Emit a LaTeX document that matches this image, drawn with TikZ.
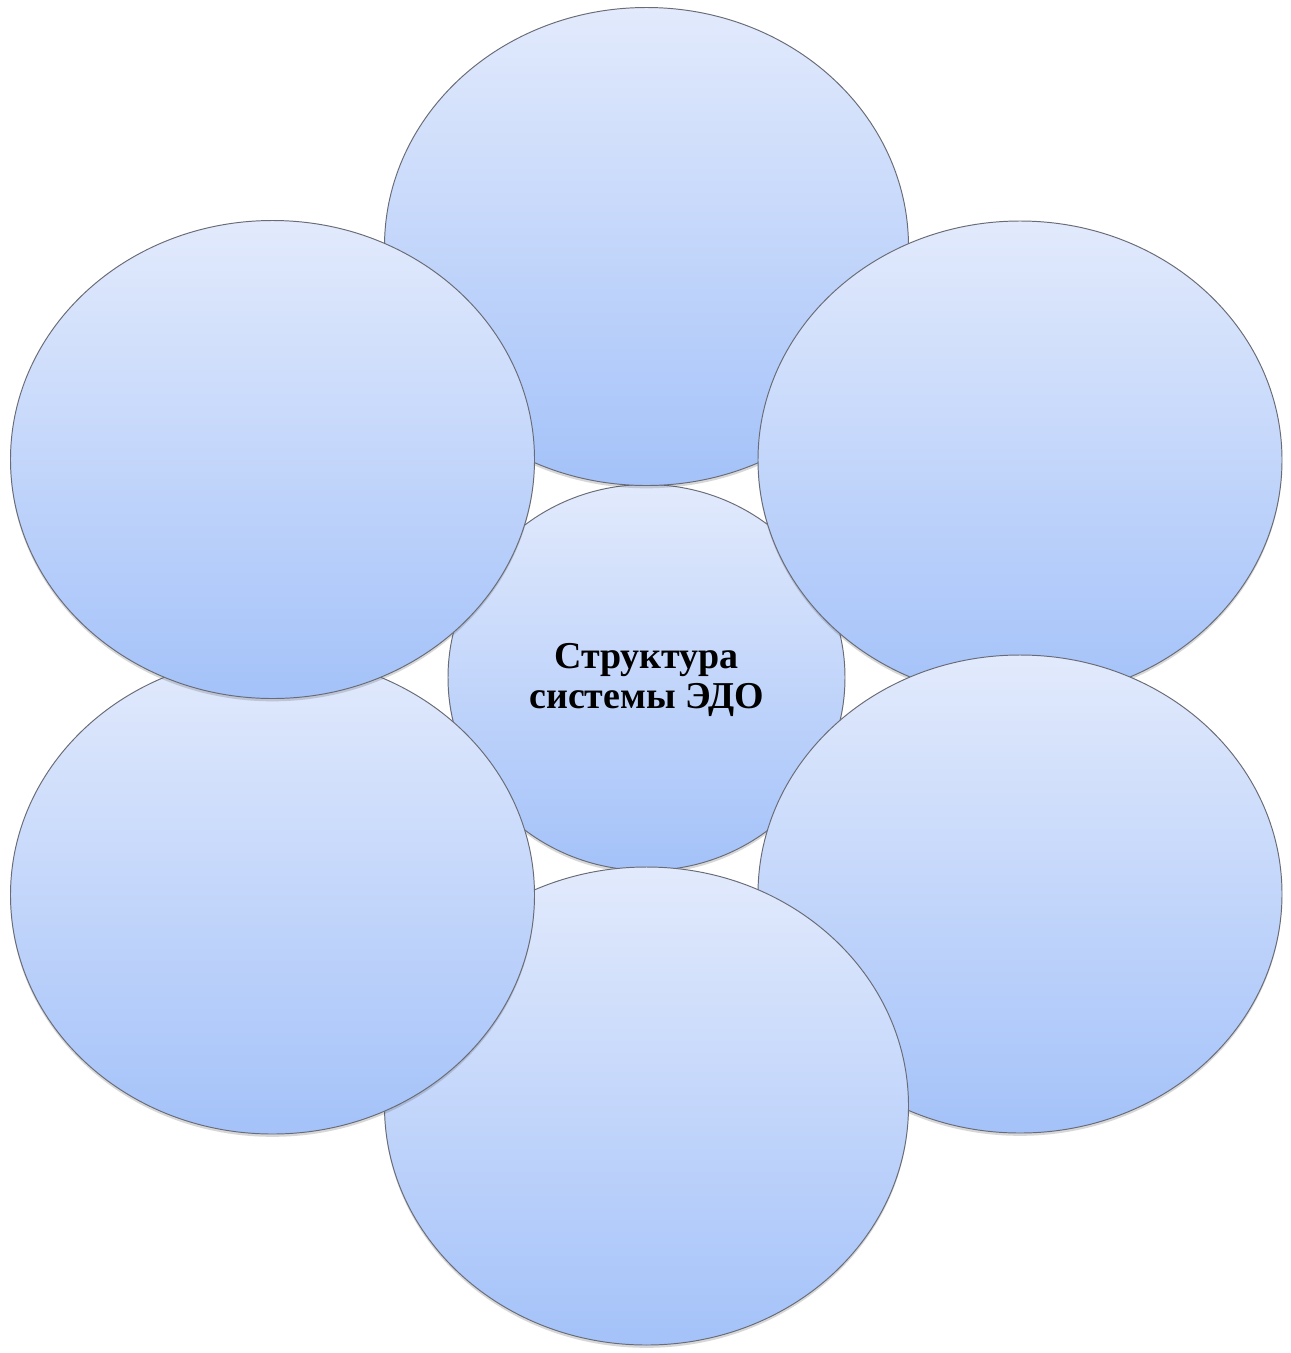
\documentclass[tikz,border=0pt]{standalone}
\usepackage{fontspec}
\setmainfont{Liberation Serif}
\usetikzlibrary{shadows,shapes.geometric}
\definecolor{bubtop}{RGB}{226,234,252}
\definecolor{bubbot}{RGB}{164,194,249}
\definecolor{bubline}{RGB}{105,108,118}
\tikzset{
  bubble/.style={ellipse, draw=bubline, line width=0.55pt,
    top color=bubtop, bottom color=bubbot, inner sep=0pt,
    drop shadow={shadow xshift=0pt, shadow yshift=-1.6pt, opacity=0.22, fill=black!70}},
  outer/.style={bubble, minimum width=524*0.02cm, minimum height=478*0.02cm},
  inner/.style={bubble, minimum width=397*0.02cm, minimum height=386*0.02cm}
}
\begin{document}
\begin{tikzpicture}[x=0.02cm,y=-0.02cm]
\useasboundingbox[fill=white] (0,0) rectangle (1291,1353);
\node[inner] (c) at (646.5,677.5) {};
\node[font=\fontsize{21.6}{22.5}\selectfont\bfseries, align=center, text=black, inner sep=0pt]
  (ct) at (646.5,680) {Структура\\системы ЭДО};
\node[outer] (t)  at (646.5,246.5) {};
\node[outer] (ur) at (1020,460) {};
\node[outer] (lr) at (1020,894) {};
\node[outer] (b)  at (646.5,1106) {};
\node[outer] (ll) at (272.5,895) {};
\node[outer] (ul) at (272.5,459.5) {};
\end{tikzpicture}
\end{document}
